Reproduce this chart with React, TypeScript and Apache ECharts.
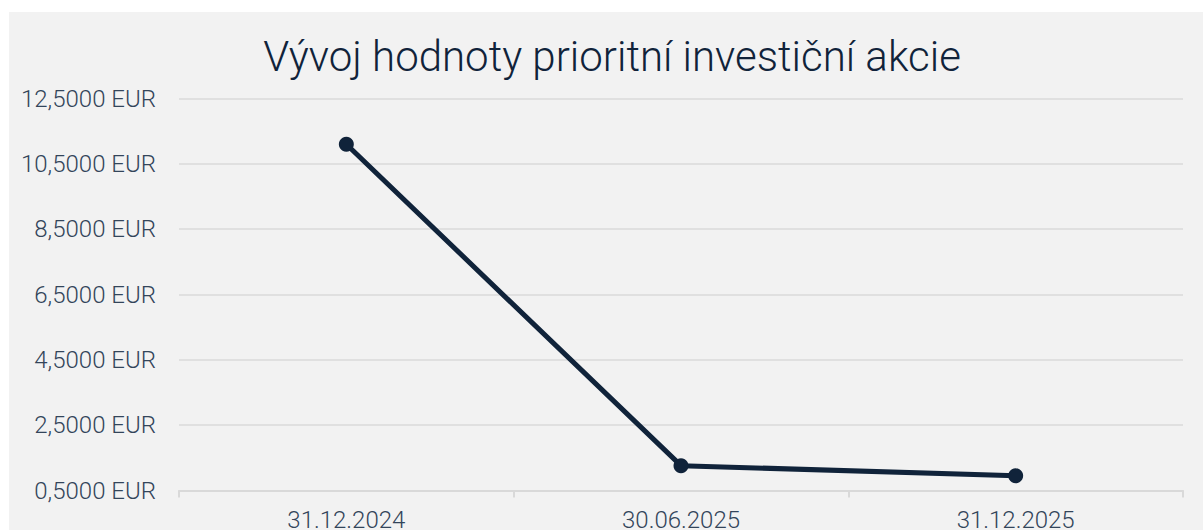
import React, { useEffect, useRef } from "react";
import * as echarts from "echarts";

const categories = ["31.12.2024", "30.06.2025", "31.12.2025"];
const values = [11.1, 1.26, 0.95];
const yTicks = [0.5, 2.5, 4.5, 6.5, 8.5, 10.5, 12.5];
const titleText = "Vývoj hodnoty prioritní investiční akcie";

export default function App() {
  const ref = useRef<HTMLDivElement>(null);
  useEffect(() => {
    if (!ref.current) return;
    const chart = echarts.init(ref.current, null, { renderer: "svg" });
    const labelColor = "#33455a";
    chart.setOption({
      animation: false,
      backgroundColor: "#f2f2f2",
      title: {
        text: titleText,
        left: "center",
        top: 18,
        textStyle: {
          fontFamily: "Roboto",
          fontSize: 42,
          fontWeight: 300,
          color: "#10233a",
        },
      },
      grid: { left: 170, top: 86.5, height: 392, right: 32 },
      xAxis: {
        type: "category",
        data: categories,
        boundaryGap: true,
        axisLine: { lineStyle: { color: "#d9d9d9", width: 2 } },
        axisTick: { show: true, length: 7, lineStyle: { color: "#d9d9d9", width: 2 } },
        axisLabel: {
          margin: 17,
          fontFamily: "Roboto",
          fontSize: 24,
          fontWeight: 300,
          color: labelColor,
        },
      },
      yAxis: {
        type: "value",
        min: 0.5,
        max: 12.5,
        axisLine: { show: false },
        axisTick: { show: false, customValues: yTicks },
        splitLine: { lineStyle: { color: "#dadada", width: 1.5 } },
        axisLabel: {
          customValues: yTicks,
          margin: 23,
          fontFamily: "Roboto",
          fontSize: 24,
          fontWeight: 300,
          color: labelColor,
          formatter: (v: number) => v.toFixed(4).replace(".", ",") + " EUR",
        },
      },
      series: [
        {
          type: "line",
          data: values,
          symbol: "circle",
          symbolSize: 15,
          lineStyle: { color: "#10233a", width: 5 },
          itemStyle: { color: "#10233a" },
        },
      ],
    });
    return () => chart.dispose();
  }, []);
  return (
    <div
      style={{
        position: "fixed",
        left: 0,
        top: 0,
        width: 1203,
        height: 530,
        overflow: "hidden",
        background: "#ffffff",
      }}
    >
      <div
        ref={ref}
        style={{ position: "absolute", left: 9, top: 12, width: 1206, height: 560 }}
      />
    </div>
  );
}
